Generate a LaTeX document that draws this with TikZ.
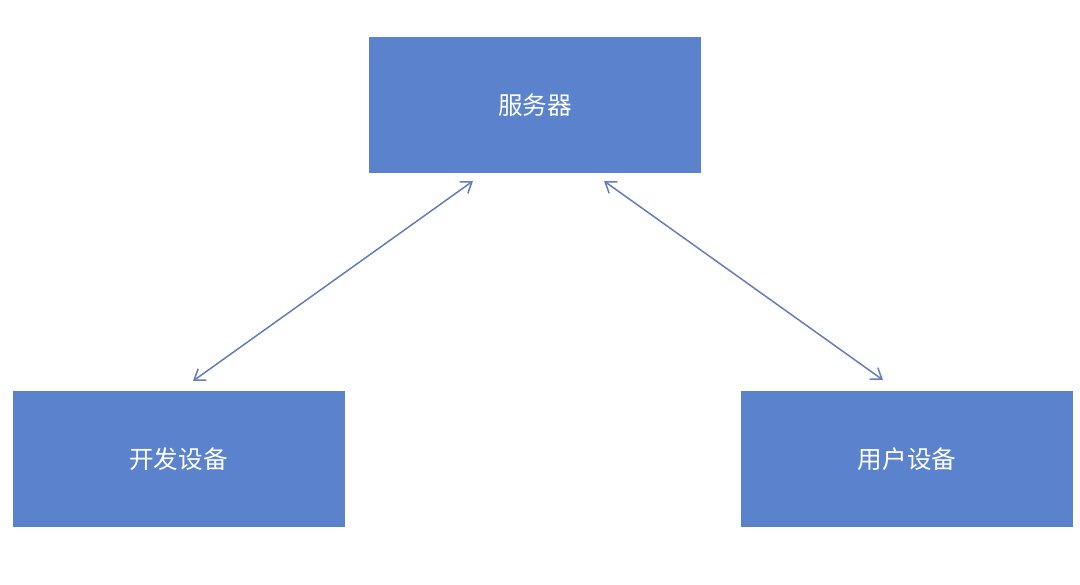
\documentclass[tikz,border=0pt]{standalone}
\usepackage{fontspec}
\newfontfamily\cjk{Noto Sans CJK SC}
\usetikzlibrary{arrows.meta}
\definecolor{boxblue}{RGB}{91,130,204}
\definecolor{arrowblue}{RGB}{100,125,190}
\begin{document}
\begin{tikzpicture}[x=0.5pt,y=-0.5pt,
  box/.style={fill=boxblue,draw=none,minimum width=166pt,minimum height=68pt,inner sep=0pt,text=white,font=\cjk\fontsize{12.3pt}{14pt}\selectfont},
  link/.style={draw=arrowblue,line width=0.75pt,{Straight Barb[length=5pt,width=7pt]}-{Straight Barb[length=5pt,width=7pt]}}]
\useasboundingbox (0,0) rectangle (1080,584);
\node[box] (srv) at (535,105) {服务器};
\node[box] (dev) at (178.5,459) {开发设备};
\node[box] (usr) at (907,459) {用户设备};
\coordinate (a1) at (193,381);
\coordinate (a2) at (473,181);
\coordinate (b1) at (604,181);
\coordinate (b2) at (883,380);
\draw[link] (a1) -- (a2);
\draw[link] (b1) -- (b2);
\end{tikzpicture}
\end{document}
